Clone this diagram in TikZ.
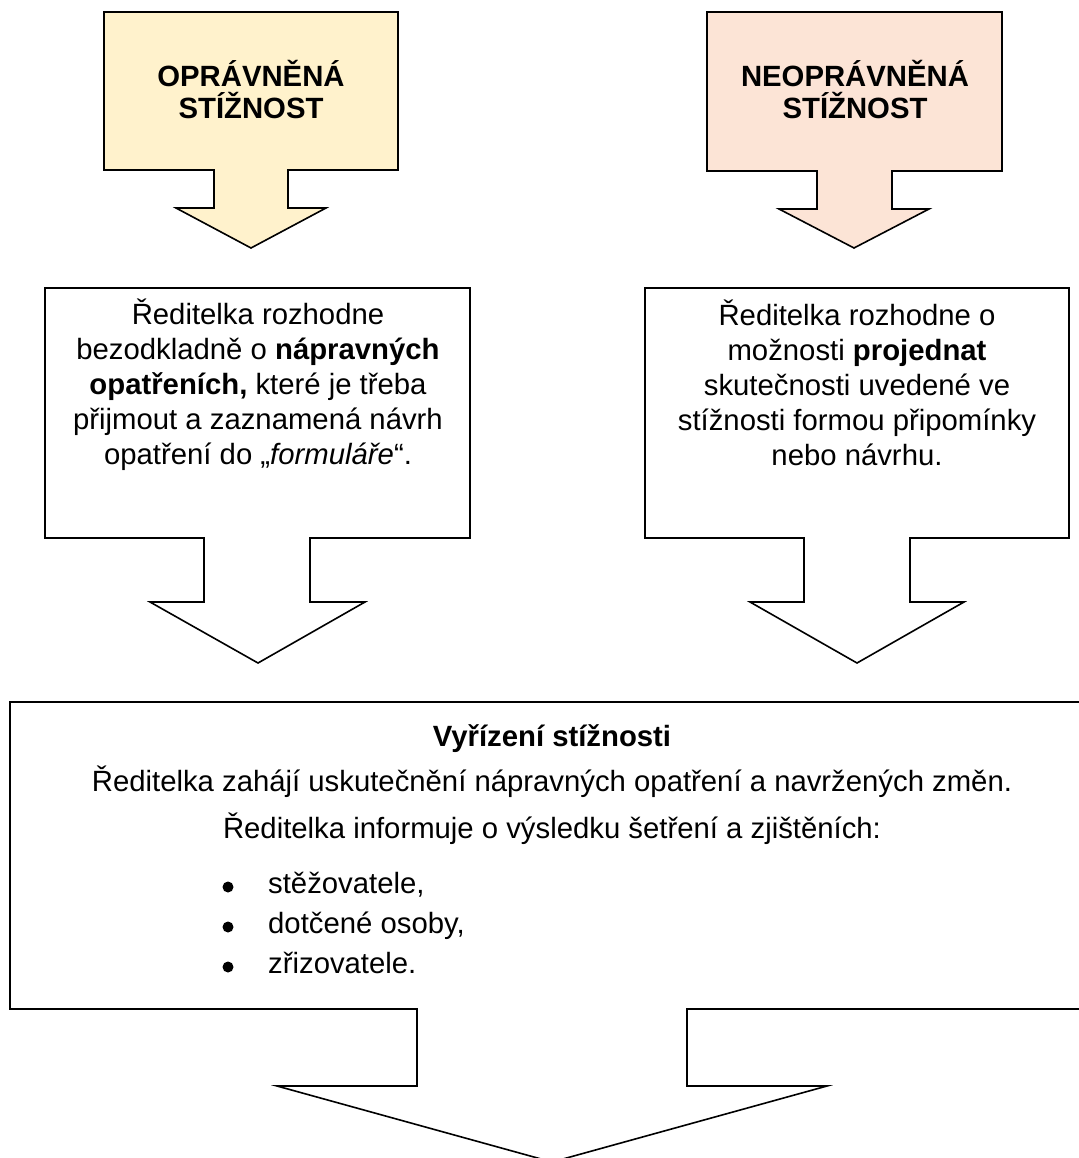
\documentclass[tikz,border=0pt]{standalone}
\usepackage{fontspec}
\setmainfont{Liberation Sans}
\usepackage{tikz}
\definecolor{blackmain}{HTML}{000000}
\definecolor{yellowacc}{HTML}{FFF2CC}
\definecolor{pinkacc}{HTML}{FCE4D6}
\tikzset{
  every node/.append style={font=\fontsize{29.3}{35}\selectfont, inner sep=0pt},
  arrowbox/.style={draw=blackmain, line width=1.6pt, line join=miter},
  headtext/.style={font=\fontsize{29.3}{32}\selectfont\bfseries, align=center},
  bodytext/.style={align=center},
  dot/.style={circle, fill=blackmain, minimum size=11pt}
}

\begin{document}
\begin{tikzpicture}[x=1pt,y=-1pt]
  \useasboundingbox (0,0) rectangle (1078,1158);
  % the two coloured arrows on top
  \draw[arrowbox,fill=yellowacc] (104,12) -- (398,12) -- (398,170) -- (288,170)
    -- (288,208) -- (326,208) -- (251,248) -- (176,208) -- (214,208)
    -- (214,170) -- (104,170) -- cycle;
  \draw[arrowbox,fill=pinkacc] (707,12) -- (1002,12) -- (1002,171) -- (892,171)
    -- (892,209) -- (929,209) -- (854,248) -- (779,209) -- (817,209)
    -- (817,171) -- (707,171) -- cycle;
  \node[headtext] (oprav) at (251,90) {OPRÁVNĚNÁ\\STÍŽNOST};
  \node[headtext] (neoprav) at (855,90) {NEOPRÁVNĚNÁ\\STÍŽNOST};

  % middle arrows
  \draw[arrowbox,fill=white] (45,288) -- (470,288) -- (470,538) -- (310,538)
    -- (310,602) -- (365,602) -- (258,663) -- (150,602) -- (204,602)
    -- (204,538) -- (45,538) -- cycle;
  \draw[arrowbox,fill=white] (645,288) -- (1069,288) -- (1069,538) -- (910,538)
    -- (910,602) -- (964,602) -- (857,663) -- (750,602) -- (804,602)
    -- (804,538) -- (645,538) -- cycle;
  \node[bodytext] (opatreni) at (258,385) {Ředitelka rozhodne\\
    bezodkladně o \textbf{nápravných}\\ \textbf{opatřeních,} které je třeba\\
    přijmout a zaznamená návrh\\ opatření do „\textit{formuláře}“.};
  \node[bodytext] (projednat) at (857,383) {Ředitelka rozhodne o\\
    možnosti \textbf{projednat}\\ skutečnosti uvedené ve\\
    stížnosti formou připomínky\\ nebo návrhu.};

  % bottom arrow
  \draw[arrowbox,fill=white] (10,702) -- (1094,702) -- (1094,1009) -- (687,1009)
    -- (687,1086) -- (827,1086) -- (552,1162) -- (277,1086) -- (417,1086)
    -- (417,1009) -- (10,1009) -- cycle;
  \node[anchor=base,font=\fontsize{29.3}{35}\selectfont\bfseries] (vyrizeni)
    at (552,746) {Vyřízení stížnosti};
  \node[anchor=base] (zahaji) at (552,791)
    {Ředitelka zahájí uskutečnění nápravných opatření a navržených změn.};
  \node[anchor=base] (informuje) at (552,838)
    {Ředitelka informuje o výsledku šetření a zjištěních:};
  \node[dot] (d1) at (228,887) {};
  \node[dot] (d2) at (228,927) {};
  \node[dot] (d3) at (228,967) {};
  \node[anchor=base west] (stez) at (268,893) {stěžovatele,};
  \node[anchor=base west] (osoby) at (268,933) {dotčené osoby,};
  \node[anchor=base west] (zriz) at (268,973) {zřizovatele.};
\end{tikzpicture}
\end{document}
